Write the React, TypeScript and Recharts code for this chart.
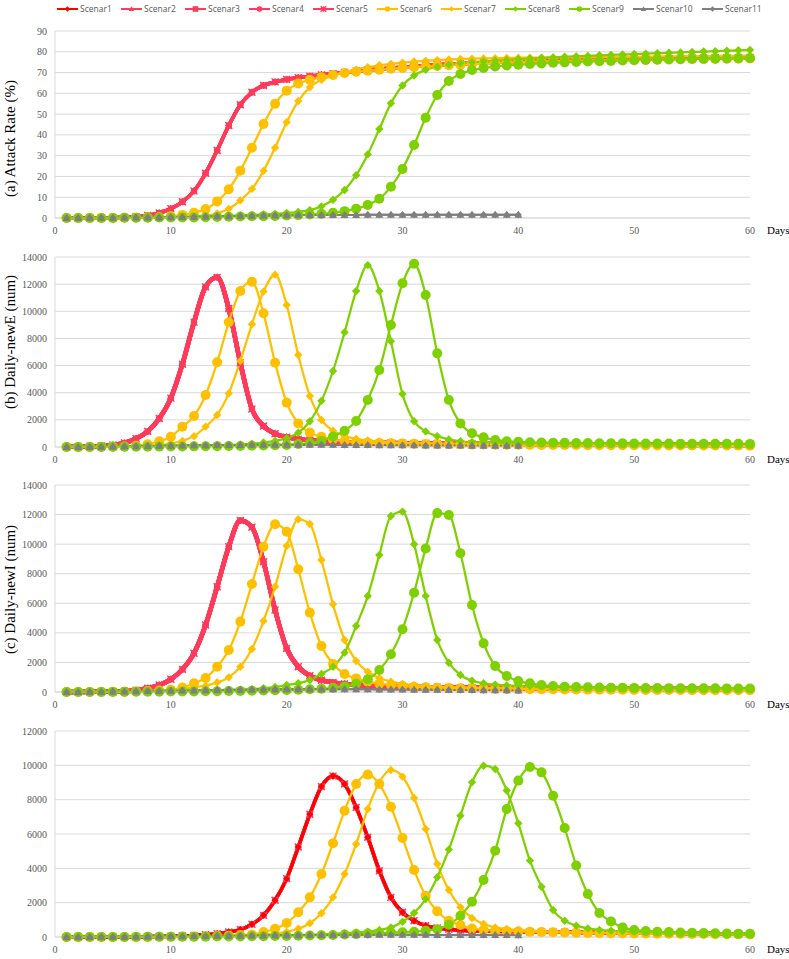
import React from 'react';
import { LineChart, Line, XAxis, YAxis, CartesianGrid } from 'recharts';

// ---------- categories / ticks ----------
const DAYS = Array.from({ length: 60 }, (_, i) => i + 1);
const X_TICKS = [0, 10, 20, 30, 40, 50, 60];
const TICKS_A = [0, 10, 20, 30, 40, 50, 60, 70, 80, 90];
const TICKS_BC = [0, 2000, 4000, 6000, 8000, 10000, 12000, 14000];
const TICKS_D = [0, 2000, 4000, 6000, 8000, 10000, 12000];

// ---------- (a) Attack Rate (%) ----------
const redA = [0.0,0.0,0.1,0.1,0.2,0.3,0.6,1.2,2.4,4.5, 7.8,13.0,21.5,32.5,44.5,54.5,60.5,63.8,65.5,66.7, 67.5,68.2,68.9,69.5,70.1,70.7,71.2,71.7,72.2,72.6, 73.0,73.4,73.7,74.0,74.3,74.5,74.8,75.0,75.2,75.4, 75.5,75.7,75.8,76.0,76.1,76.2,76.3,76.4,76.5,76.6, 76.7,76.8,76.8,76.9,77.0,77.0,77.1,77.1,77.2,77.2];
const y6A = [0,0,0,0,0,0.1,0.1,0.2,0.4,0.8, 1.5,2.5,4.3,8.0,13.8,22.8,33.8,45.2,55.0,61.3, 64.7,66.5,67.8,68.8,69.8,70.4,70.9,71.4,71.8,72.2, 72.6,72.9,73.2,73.5,73.8,74.1,74.3,74.6,74.8,75.0, 75.2,75.3,75.5,75.6,75.7,75.8,75.9,76.0,76.1,76.2, 76.2,76.3,76.4,76.4,76.5,76.6,76.6,76.7,76.7,76.8];
const y7A = [0,0,0,0,0,0,0.1,0.1,0.2,0.3, 0.4,0.6,1.0,2.2,4.4,8.5,14.0,22.7,33.8,46.1, 56.3,62.9,66.5,68.6,70.2,71.5,72.6,73.5,74.2,74.8, 75.3,75.7,76.0,76.3,76.5,76.7,76.8,76.9,77.0,77.1, 77.2,77.2,77.3,77.3,77.4,77.4,77.5,77.5,77.6,77.6, 77.7,77.7,77.8,77.8,77.9,77.9,78.0,78.0,78.1,78.1];
const g8A = [0,0,0,0,0.1,0.1,0.2,0.2,0.3,0.4, 0.5,0.6,0.7,0.9,1.0,1.2,1.4,1.7,2.0,2.4, 2.9,3.8,5.6,8.8,13.5,20.6,30.6,42.8,55.2,63.8, 68.6,71.3,72.8,73.8,74.5,75.0,75.4,75.8,76.1,76.4, 76.7,77.0,77.3,77.6,77.8,78.0,78.3,78.5,78.7,78.9, 79.1,79.3,79.5,79.7,79.9,80.1,80.3,80.5,80.7,80.9];
const g9A = [0,0,0,0,0,0.1,0.1,0.1,0.2,0.2, 0.3,0.3,0.4,0.5,0.6,0.7,0.8,0.9,1.0,1.2, 1.4,1.7,2.0,2.5,3.3,4.5,6.3,9.3,15.0,23.6, 35.1,48.3,59.2,65.9,69.3,71.2,72.2,72.9,73.4,73.8, 74.1,74.4,74.7,74.9,75.1,75.3,75.5,75.6,75.8,75.9, 76.1,76.2,76.3,76.4,76.5,76.6,76.7,76.8,76.9,77.0];
const grayA = [0.0,0.0,0.1,0.1,0.1,0.2,0.2,0.3,0.3,0.4, 0.5,0.6,0.7,0.8,0.9,1.0,1.1,1.2,1.3,1.3, 1.4,1.4,1.5,1.5,1.5,1.5,1.6,1.6,1.6,1.6, 1.6,1.6,1.6,1.6,1.6,1.6,1.6,1.6,1.6,1.6];

// ---------- (b) Daily-newE (num) ----------
const redB = [10,20,40,80,150,300,620,1150,2100,3600, 6100,9200,11800,12500,10200,6200,2800,1550,980,730, 580,490,430,390,360,335,315,300,290,280, 270,262,255,248,242,236,230,225,220,215, 210,205,200,196,192,188,184,180,176,172, 168,164,160,156,152,148,144,140,136,132];
const y6B = [0,5,10,15,25,40,90,200,420,760, 1500,2280,3830,6240,9190,11500,12180,9850,6210,3270, 1740,1060,760,560,440,370,320,290,270,250, 235,222,212,203,195,188,181,175,169,164, 159,154,150,146,142,138,134,131,128,125, 122,119,116,113,110,108,106,104,102,100];
const y7B = [0,3,6,10,16,25,40,70,120,260, 450,800,1500,2360,3950,6340,9040,11450,12700,10460, 6780,3760,1990,1200,810,600,480,400,350,310, 285,265,250,237,226,216,207,199,191,184, 177,171,165,160,155,150,146,142,138,134, 130,127,124,121,118,115,112,110,108,106];
const g8B = [0,4,8,12,18,25,32,40,50,60, 72,85,100,120,145,180,250,330,450,650, 1050,1900,3400,5600,8450,11500,13400,11500,7800,3900, 1900,1150,800,560,420,360,330,310,300,292, 286,280,275,270,266,262,258,254,250,247, 244,241,238,235,232,229,226,224,222,220];
const g9B = [0,3,6,9,12,16,20,25,30,36, 42,48,55,62,70,80,90,105,125,150, 220,300,450,780,1200,1920,3460,5670,8990,12060, 13500,11200,6900,3460,1740,1010,710,520,430,380, 350,330,315,305,296,288,281,275,269,264, 259,255,251,247,243,240,237,234,231,228];
const grayB = [0,8,17,27,38,50,62,74,86,98, 110,121,131,140,148,155,160,164,166,167, 166,164,161,157,153,148,143,138,133,128, 123,118,113,108,104,100,96,92,88,85];

// ---------- (c) Daily-newI (num) ----------
const redC = [0,5,10,20,35,60,120,250,470,860, 1530,2620,4530,7120,9830,11600,11150,8810,5550,2950, 1710,1100,800,650,550,480,430,400,375,355, 340,327,316,306,297,289,282,275,269,263, 257,252,247,242,237,233,229,225,221,217, 213,209,206,203,200,197,194,191,188,185];
const y6C = [0,2,5,10,15,25,40,70,100,150, 300,590,950,1710,2840,4760,7300,9830,11340,10840, 8300,5370,3110,1890,1220,920,700,560,470,400, 355,320,295,275,258,244,232,221,211,202, 194,187,180,174,168,163,158,153,149,145, 141,137,134,131,128,125,122,119,117,115];
const y7C = [0,2,4,6,10,15,25,40,70,120, 200,320,430,640,990,1710,2910,4800,7120,9870, 11680,11360,8930,5930,3520,2100,1370,950,700,550, 460,400,360,330,306,286,270,256,244,233, 223,214,206,199,192,186,180,175,170,165, 160,156,152,148,144,141,138,135,132,129];
const g8C = [0,2,4,6,10,14,20,26,34,44, 56,70,86,104,124,150,190,250,340,470, 590,810,1220,1710,2660,4460,6490,9270,11900,12200, 10000,6500,3520,1980,1150,760,590,500,450,420, 400,385,372,361,351,342,334,326,319,312, 306,300,294,289,284,279,274,270,266,262];
const g9C = [0,2,4,6,8,10,14,18,22,28, 34,40,48,56,66,76,88,100,115,130, 150,180,220,280,380,560,860,1490,2550,4240, 6720,9710,12100,11970,9380,5880,3290,1760,1080,740, 590,470,400,360,335,318,305,295,286,278, 271,265,260,256,252,249,246,243,240,238];
const grayC = [0,6,13,21,30,40,50,61,72,84, 96,108,120,132,144,155,165,174,182,188, 192,194,194,192,189,185,180,175,169,163, 157,151,145,139,133,127,121,115,110,105];

// ---------- (d) ----------
const redD = [0,0,2,4,6,10,15,22,32,45, 65,90,130,190,290,430,740,1260,2140,3400, 5240,7150,8760,9380,8910,7550,5810,3860,2310,1440, 950,660,520,450,400,370,350,333,320,310, 300,291,283,276,269,262,256,250,244,238, 232,226,220,214,208,202,196,190,184,178];
const y6D = [0,0,1,2,3,5,7,10,14,19, 25,33,45,60,80,110,150,290,485,815, 1440,2310,3670,5460,7360,8910,9460,8910,7590,5770, 3900,2410,1500,950,700,500,410,370,340,320, 302,287,274,262,251,241,232,224,216,209, 202,195,189,183,177,171,165,159,153,147];
const y7D = [0,0,0,1,2,3,4,6,8,11, 15,20,27,36,48,63,82,120,200,300, 480,800,1380,2310,3670,5420,7460,9010,9730,9340, 8100,6290,4250,2740,1730,1110,760,560,470,410, 370,340,316,296,279,264,251,239,228,218, 209,200,192,184,177,170,163,156,150,144];
const g8D = [0,1,2,3,4,6,8,10,13,16, 20,25,30,36,43,51,60,70,82,96, 112,130,152,180,220,270,310,410,560,890, 1400,2210,3480,5090,7070,9010,9980,9790,8530,6620, 4450,2930,1570,950,660,500,410,360,330,310, 294,280,268,257,247,238,230,222,215,208];
const g9D = [0,1,2,3,4,5,6,8,10,12, 14,17,20,24,28,33,39,46,54,63, 74,87,102,120,142,168,200,230,260,280, 310,370,450,720,1240,2060,3320,5030,7460,9110, 9900,9590,8230,6350,4160,2510,1400,910,560,410, 350,310,285,265,248,233,220,208,196,185];
const grayD = [0,2,5,8,12,16,21,26,32,38, 45,52,59,66,73,80,87,93,99,104, 109,113,117,120,122,124,125,126,126,126, 125,124,123,121,119,117,115,113,111,109];

// ---------- series styling ----------
type Shape = 'diamond' | 'triangle' | 'square' | 'circle' | 'star';
interface SeriesDef { key: string; name: string; color: string; shape: Shape; size: number; width: number; }

const RED = '#FF0000';
const PINK = '#FF3B5C';
const GOLD = '#FFC000';
const GREEN = '#7FD000';
const GRAY = '#7F7F7F';

const SERIES: SeriesDef[] = [
  { key: 's1', name: 'Scenar1', color: RED, shape: 'diamond', size: 3.5, width: 3 },
  { key: 's2', name: 'Scenar2', color: PINK, shape: 'triangle', size: 3.5, width: 3 },
  { key: 's3', name: 'Scenar3', color: PINK, shape: 'square', size: 3, width: 3 },
  { key: 's4', name: 'Scenar4', color: PINK, shape: 'circle', size: 3, width: 3 },
  { key: 's5', name: 'Scenar5', color: PINK, shape: 'star', size: 3.5, width: 3 },
  { key: 's6', name: 'Scenar6', color: GOLD, shape: 'circle', size: 5, width: 2.25 },
  { key: 's7', name: 'Scenar7', color: GOLD, shape: 'diamond', size: 4.2, width: 2.25 },
  { key: 's8', name: 'Scenar8', color: GREEN, shape: 'diamond', size: 4.2, width: 2.25 },
  { key: 's9', name: 'Scenar9', color: GREEN, shape: 'circle', size: 5, width: 2.25 },
  { key: 's10', name: 'Scenar10', color: GRAY, shape: 'triangle', size: 4, width: 2 },
  { key: 's11', name: 'Scenar11', color: GRAY, shape: 'diamond', size: 3.5, width: 2 },
];

const SERIF = '"Liberation Serif", "Times New Roman", serif';

function buildRows(red: number[], y6: number[], y7: number[], g8: number[], g9: number[], gray: number[]) {
  return DAYS.map((d, i) => ({
    day: d,
    s1: red[i], s2: red[i], s3: red[i], s4: red[i], s5: red[i],
    s6: y6[i], s7: y7[i], s8: g8[i], s9: g9[i],
    s10: i < gray.length ? gray[i] : null,
    s11: i < gray.length ? gray[i] : null,
  }));
}

function Marker({ shape, cx, cy, r, color }: { shape: Shape; cx: number; cy: number; r: number; color: string }) {
  switch (shape) {
    case 'circle':
      return <circle cx={cx} cy={cy} r={r} fill={color} />;
    case 'diamond':
      return <polygon points={`${cx},${cy - r} ${cx + r},${cy} ${cx},${cy + r} ${cx - r},${cy}`} fill={color} />;
    case 'triangle':
      return <polygon points={`${cx},${cy - r} ${cx + r},${cy + r * 0.75} ${cx - r},${cy + r * 0.75}`} fill={color} />;
    case 'square':
      return <rect x={cx - r} y={cy - r} width={2 * r} height={2 * r} fill={color} />;
    case 'star':
      return (
        <path
          d={`M${cx - r},${cy - r}L${cx + r},${cy + r}M${cx - r},${cy + r}L${cx + r},${cy - r}M${cx},${cy - r}L${cx},${cy + r}`}
          stroke={color}
          strokeWidth={1.3}
          fill="none"
        />
      );
  }
  return null;
}

function XTick(props: any) {
  const { x, y, payload } = props;
  return (
    <text x={x} y={y + 8} textAnchor="middle" fontFamily={SERIF} fontSize={10} fill="#595959">
      {payload.value}
    </text>
  );
}

function YTick(props: any) {
  const { x, y, payload } = props;
  return (
    <text x={x} y={y + 3.5} textAnchor="end" fontFamily={SERIF} fontSize={10} fill="#595959">
      {payload.value}
    </text>
  );
}

interface PanelCfg {
  id: string;
  title?: string;
  titleShift: number;
  top: number;
  height: number;
  mt: number;
  mb: number;
  yMax: number;
  yTicks: number[];
  data: any[];
  redWidth: number;
  order: string[];
}

const ORDER_DEFAULT = ['s1', 's2', 's3', 's4', 's5', 's6', 's7', 's8', 's9', 's11', 's10'];
const ORDER_D = ['s2', 's3', 's4', 's5', 's1', 's6', 's7', 's8', 's9', 's11', 's10'];

const PANELS: PanelCfg[] = [
  { id: 'a', title: '(a) Attack Rate (%)', titleShift: 14, top: 0, height: 240, mt: 31, mb: 0, yMax: 90, yTicks: TICKS_A, data: buildRows(redA, y6A, y7A, g8A, g9A, grayA), redWidth: 3.5, order: ORDER_DEFAULT },
  { id: 'b', title: '(b) Daily-newE (num)', titleShift: -10, top: 240, height: 230, mt: 17, mb: 1, yMax: 14000, yTicks: TICKS_BC, data: buildRows(redB, y6B, y7B, g8B, g9B, grayB), redWidth: 4.5, order: ORDER_DEFAULT },
  { id: 'c', title: '(c) Daily-newI (num)', titleShift: 1, top: 470, height: 245, mt: 15, mb: 1, yMax: 14000, yTicks: TICKS_BC, data: buildRows(redC, y6C, y7C, g8C, g9C, grayC), redWidth: 4.5, order: ORDER_DEFAULT },
  { id: 'd', titleShift: 0, top: 715, height: 244, mt: 16, mb: 0, yMax: 12000, yTicks: TICKS_D, data: buildRows(redD, y6D, y7D, g8D, g9D, grayD), redWidth: 3.5, order: ORDER_D },
];

function Panel({ cfg }: { cfg: PanelCfg }) {
  const plotH = cfg.height - cfg.mt - cfg.mb - 22;
  const plotBottom = cfg.height - cfg.mb - 22;
  const titleLabel = cfg.title
    ? {
        content: (props: any) => {
          const vb = props.viewBox || {};
          const y0 = vb.y != null ? vb.y : cfg.mt;
          const h = vb.height != null ? vb.height : plotH;
          const cy = y0 + h / 2 + cfg.titleShift;
          return (
            <text
              x={10}
              y={cy}
              transform={`rotate(-90, 10, ${cy})`}
              textAnchor="middle"
              dominantBaseline="central"
              fontFamily={SERIF}
              fontSize={15}
              fill="#000"
            >
              {cfg.title}
            </text>
          );
        },
      }
    : undefined;

  const daysLabel = {
    content: () => (
      <text x={767} y={plotBottom + 16} textAnchor="start" fontFamily={SERIF} fontSize={11} fill="#000">
        Days
      </text>
    ),
  };

  return (
    <div style={{ position: 'absolute', left: 0, top: cfg.top }}>
      <LineChart width={789} height={cfg.height} data={cfg.data} margin={{ top: cfg.mt, right: 39, bottom: cfg.mb, left: 0 }}>
        <CartesianGrid vertical={false} stroke="#D9D9D9" strokeWidth={1} />
        <XAxis
          dataKey="day"
          type="number"
          domain={[0, 60]}
          ticks={X_TICKS}
          interval={0}
          tickLine={false}
          axisLine={{ stroke: '#D9D9D9' }}
          height={22}
          tick={<XTick />}
          label={daysLabel as any}
        />
        <YAxis
          type="number"
          domain={[0, cfg.yMax]}
          ticks={cfg.yTicks}
          interval={0}
          tickLine={false}
          axisLine={{ stroke: '#D9D9D9' }}
          width={55}
          tick={<YTick />}
          label={titleLabel as any}
        />
        {cfg.order.map((k) => {
          const s = SERIES.find((x) => x.key === k)!;
          const isRed = ['s1', 's2', 's3', 's4', 's5'].includes(k);
          return (
            <Line
              key={k}
              dataKey={k}
              name={s.name}
              type="monotone"
              stroke={s.color}
              strokeWidth={isRed ? cfg.redWidth : s.width}
              isAnimationActive={false}
              activeDot={false}
              connectNulls={false}
              dot={(p: any) => {
                const key = `${cfg.id}-${k}-${p.index}`;
                if (p.cx == null || p.cy == null || p.value == null || Number.isNaN(p.cy)) return <g key={key} />;
                return (
                  <g key={key}>
                    <Marker shape={s.shape} cx={p.cx} cy={p.cy} r={s.size} color={s.color} />
                  </g>
                );
              }}
            />
          );
        })}
      </LineChart>
    </div>
  );
}

function LegendBar() {
  return (
    <div
      style={{
        position: 'absolute',
        left: 57,
        top: 1,
        height: 15,
        display: 'flex',
        alignItems: 'center',
        fontFamily: '"Open Sans", sans-serif',
        fontSize: 8.5,
        color: '#595959',
        whiteSpace: 'nowrap',
      }}
    >
      {SERIES.map((s) => (
        <div key={s.key} style={{ display: 'flex', alignItems: 'center', width: s.name.length > 7 ? 69 : 64 }}>
          <svg width={22} height={10} style={{ display: 'block' }}>
            <line x1={0} y1={5} x2={21} y2={5} stroke={s.color} strokeWidth={2} />
            <Marker shape={s.shape} cx={10.5} cy={5} r={2.8} color={s.color} />
          </svg>
          <span style={{ marginLeft: 1 }}>{s.name}</span>
        </div>
      ))}
    </div>
  );
}

export default function App() {
  return (
    <div style={{ position: 'absolute', left: 0, top: 0, width: 789, height: 959, background: '#fff', overflow: 'hidden' }}>
      <LegendBar />
      {PANELS.map((p) => (
        <Panel key={p.id} cfg={p} />
      ))}
    </div>
  );
}
